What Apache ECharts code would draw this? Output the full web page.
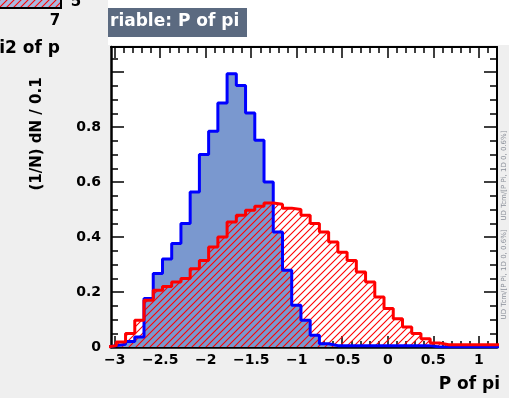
<!DOCTYPE html>
<html>
<head>
<meta charset="utf-8">
<script src="https://cdn.jsdelivr.net/npm/echarts@6/dist/echarts.min.js"></script>
<style>
  html, body { margin: 0; padding: 0; background: #efefef; }
  #chart { width: 509px; height: 398px; }
</style>
</head>
<body>
<div id="chart"></div>
<script>
// ---- binning of the "P of pi" histograms ----
const binStart = -3.083;
const binWidth = 0.1014;

// (1/N) dN per bin, first distribution (blue, solid fill)
const blueValues = [
  0.005, 0.010, 0.020, 0.036, 0.176, 0.267, 0.320, 0.376, 0.449, 0.564,
  0.700, 0.785, 0.887, 0.994, 0.951, 0.851, 0.752, 0.600, 0.418, 0.279,
  0.152, 0.097, 0.043, 0.012, 0.005, 0.005, 0.005, 0.005, 0.005, 0.005,
  0.005, 0.005, 0.005, 0.005, 0.005, 0, 0, 0, 0, 0,
  0, 0, 0
];

// (1/N) dN per bin, second distribution (red, hatched)
const redValues = [
  0.005, 0.018, 0.049, 0.097, 0.170, 0.206, 0.220, 0.236, 0.249, 0.285,
  0.315, 0.364, 0.400, 0.455, 0.479, 0.497, 0.512, 0.524, 0.519, 0.505,
  0.500, 0.479, 0.449, 0.418, 0.382, 0.345, 0.315, 0.273, 0.236, 0.182,
  0.140, 0.103, 0.073, 0.049, 0.030, 0.015, 0.008, 0.008, 0.008, 0.008,
  0.008, 0.008, 0.008
];

// ---- axis ranges and ticks ----
const xMin = -3.04, xMax = 1.2;
const yMin = 0, yMax = 1.091;
const xLabelValues = [-3, -2.5, -2, -1.5, -1, -0.5, 0, 0.5, 1];
const xMajorTicks = [-3, -2.5, -2, -1.5, -1, -0.5, 0, 0.5, 1];
const xMinorTicks = [-3, -2.9, -2.8, -2.7, -2.6, -2.5, -2.4, -2.3, -2.2, -2.1,
  -2, -1.9, -1.8, -1.7, -1.6, -1.5, -1.4, -1.3, -1.2, -1.1, -1, -0.9, -0.8,
  -0.7, -0.6, -0.5, -0.4, -0.3, -0.2, -0.1, 0, 0.1, 0.2, 0.3, 0.4, 0.5, 0.6,
  0.7, 0.8, 0.9, 1, 1.1];
const yLabelValues = [0, 0.2, 0.4, 0.6, 0.8];
const yMajorTicks = [0, 0.2, 0.4, 0.6, 0.8, 1.0];
const yMinorTicks = [0, 0.05, 0.1, 0.15, 0.2, 0.25, 0.3, 0.35, 0.4, 0.45, 0.5,
  0.55, 0.6, 0.65, 0.7, 0.75, 0.8, 0.85, 0.9, 0.95, 1.0, 1.05];

const FONT = '"DejaVu Sans", "Liberation Sans", sans-serif';

// step outline points: one point at each bin's low edge, closed to zero at both ends
function histPoints(vals) {
  const pts = [[binStart, 0]];
  vals.forEach((v, j) => pts.push([binStart + j * binWidth, v]));
  const end = binStart + vals.length * binWidth;
  pts.push([end, vals[vals.length - 1]]);
  pts.push([end, 0]);
  return pts;
}

// "////" hatch tile
function hatchTile(color, step, lw) {
  const c = document.createElement('canvas');
  c.width = step; c.height = step;
  const g = c.getContext('2d');
  g.strokeStyle = color; g.lineWidth = lw;
  g.beginPath();
  g.moveTo(-1, step + 1); g.lineTo(step + 1, -1);
  g.moveTo(-1, 1); g.lineTo(1, -1);
  g.moveTo(step - 1, step + 1); g.lineTo(step + 1, step - 1);
  g.stroke();
  return c;
}
const redHatch = { image: hatchTile('#ff0000', 7, 1.1), repeat: 'repeat' };

function fmtNum(v) {
  const a = Math.abs(v);
  return (v < 0 ? '\u2212' : '') + String(+a.toFixed(2));
}

const labelStyle = { fontFamily: FONT, fontWeight: 'bold', fontSize: 14, color: '#000' };

function xAxisDef(position, ticks, len, withLine, withLabels) {
  return {
    type: 'value', min: xMin, max: xMax, position: position,
    axisLine: { show: withLine, onZero: false, lineStyle: { color: '#000', width: position === 'bottom' ? 2.5 : 2 } },
    axisTick: { show: true, inside: true, length: len, customValues: ticks, lineStyle: { color: '#000', width: 1.5 } },
    axisLabel: withLabels
      ? Object.assign({ show: true, customValues: xLabelValues, margin: 6, formatter: fmtNum }, labelStyle)
      : { show: false },
    splitLine: { show: false }
  };
}
function yAxisDef(position, ticks, len, withLine, withLabels) {
  return {
    type: 'value', min: yMin, max: yMax, position: position,
    axisLine: { show: withLine, onZero: false, lineStyle: { color: '#000', width: position === 'left' ? 2.5 : 2 } },
    axisTick: { show: true, inside: true, length: len, customValues: ticks, lineStyle: { color: '#000', width: 1.5 } },
    axisLabel: withLabels
      ? Object.assign({ show: true, customValues: yLabelValues, margin: 10, formatter: fmtNum }, labelStyle)
      : { show: false },
    splitLine: { show: false }
  };
}

const chart = echarts.init(document.getElementById('chart'), null, { renderer: 'canvas' });

chart.setOption({
  animation: false,
  backgroundColor: '#efefef',
  grid: { left: 111, top: 47, right: 12, bottom: 51, show: true, backgroundColor: '#ffffff', borderWidth: 0 },
  xAxis: [
    xAxisDef('bottom', xMajorTicks, 11, true, true),
    xAxisDef('bottom', xMinorTicks, 6, false, false),
    xAxisDef('top', xMajorTicks, 11, true, false),
    xAxisDef('top', xMinorTicks, 6, false, false)
  ],
  yAxis: [
    yAxisDef('left', yMajorTicks, 13, true, true),
    yAxisDef('left', yMinorTicks, 7, false, false),
    yAxisDef('right', yMajorTicks, 13, true, false),
    yAxisDef('right', yMinorTicks, 7, false, false)
  ],
  series: [
    { // blue fill
      type: 'line', step: 'end', data: histPoints(blueValues), symbol: 'none',
      lineStyle: { width: 0, opacity: 0 }, areaStyle: { color: '#7a98cf', opacity: 1 }, z: 2
    },
    { // red hatch
      type: 'line', step: 'end', data: histPoints(redValues), symbol: 'none',
      lineStyle: { width: 0, opacity: 0 }, areaStyle: { color: redHatch, opacity: 1 }, z: 3
    },
    { // blue outline
      type: 'line', step: 'end', data: histPoints(blueValues), symbol: 'none',
      lineStyle: { color: '#0000ff', width: 3 }, z: 4
    },
    { // red outline
      type: 'line', step: 'end', data: histPoints(redValues), symbol: 'none',
      lineStyle: { color: '#ff0000', width: 3 }, z: 5
    }
  ],
  graphic: [
    { type: 'rect', z: -10, shape: { x: 108, y: 0, width: 401, height: 45 }, style: { fill: '#ffffff' } },
    { type: 'rect', z: 10, shape: { x: 108, y: 8, width: 139, height: 29 }, style: { fill: '#5b6a80' } },
    { type: 'text', z: 11, x: 110, y: 22,
      style: { text: 'riable: P of pi', fill: '#ffffff', font: 'bold 17px ' + FONT, align: 'left', verticalAlign: 'middle' } },

    // neighbouring pad fragments (top-left)
    { type: 'rect', z: 10, shape: { x: -3, y: -3, width: 64, height: 11 }, style: { fill: '#a9b9e0', stroke: '#000', lineWidth: 2 } },
    { type: 'rect', z: 11, shape: { x: 0, y: 0, width: 60, height: 7 }, style: { fill: redHatch } },
    { type: 'text', z: 11, x: 76, y: 2,
      style: { text: '5', fill: '#000', font: 'bold 15px ' + FONT, align: 'center', verticalAlign: 'middle' } },
    { type: 'text', z: 11, x: 55, y: 21,
      style: { text: '7', fill: '#000', font: 'bold 15px ' + FONT, align: 'center', verticalAlign: 'middle' } },
    { type: 'text', z: 11, x: 60, y: 49,
      style: { text: 'i2 of p', fill: '#000', font: 'bold 17px ' + FONT, align: 'right', verticalAlign: 'middle' } },

    // axis titles
    { type: 'text', z: 11, x: 37, y: 134, rotation: Math.PI / 2,
      style: { text: '(1/N) dN / 0.1', fill: '#000', font: 'bold 15px ' + FONT, align: 'center', verticalAlign: 'middle' } },
    { type: 'text', z: 11, x: 500, y: 385,
      style: { text: 'P of pi', fill: '#000', font: 'bold 17px ' + FONT, align: 'right', verticalAlign: 'middle' } },

    // faint side note
    { type: 'text', z: 11, x: 504, y: 225, rotation: Math.PI / 2,
      style: { text: 'UD Tcm/[P Pi, 1D 0, 0.6%]    UD Tcm/[P Pi, 1D 0, 0.6%]', fill: '#8a8f99', font: '7px ' + FONT, align: 'center', verticalAlign: 'middle' } }
  ]
});
</script>
</body>
</html>
